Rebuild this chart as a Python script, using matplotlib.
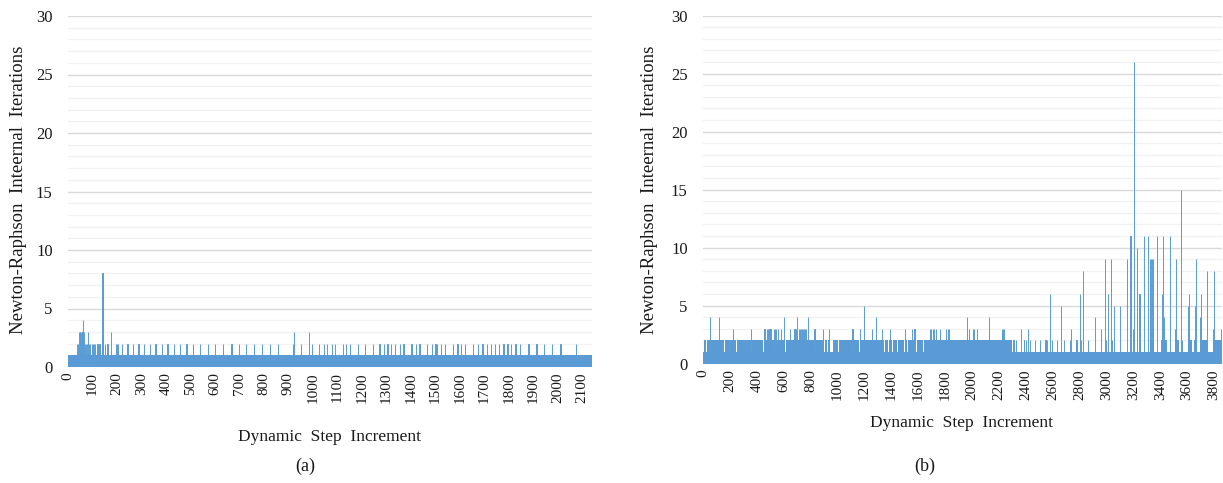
import numpy as np
import matplotlib.pyplot as plt

plt.rcParams['font.family'] = ['Liberation Serif', 'DejaVu Serif']

# ---- panel (a): 2140 dynamic steps, baseline of 1 iteration
a_n_steps = 2140
a_base = 1
a_spike_steps = [36, 40, 44, 47, 50, 53, 56, 59, 62, 65, 68, 74, 77, 80, 84, 88,
                 99, 102, 106, 110, 120, 128, 140, 150, 161, 176, 197, 201, 205,
                 221, 242, 265, 287, 311, 334, 357, 382, 406, 432, 457, 483, 511,
                 538, 570, 601, 632, 667, 699, 725, 759, 792, 824, 857, 918, 922,
                 951, 984, 996, 1025, 1045, 1057, 1078, 1090, 1123, 1136, 1150,
                 1184, 1211, 1245, 1272, 1290, 1304, 1320, 1336, 1354, 1370, 1402,
                 1422, 1435, 1467, 1486, 1500, 1505, 1522, 1538, 1573, 1590, 1606,
                 1622, 1655, 1674, 1692, 1711, 1726, 1743, 1761, 1778, 1794, 1810,
                 1827, 1844, 1880, 1913, 1945, 1976, 2011, 2074]
a_spike_vals = [2, 2, 3, 3, 3, 3, 3, 3, 4, 3, 2, 2, 2, 3, 2, 2,
                2, 2, 2, 2, 2, 2, 8, 2, 2, 3, 2, 2, 2,
                2, 2, 2, 2, 2, 2, 2, 2, 2, 2, 2, 2, 2,
                2, 2, 2, 2, 2, 2, 2, 2, 2, 2, 2, 2, 3,
                2, 3, 2, 2, 2, 2, 2, 2, 2, 2, 2,
                2, 2, 2, 2, 2, 2, 2, 2, 2, 2, 2,
                2, 2, 2, 2, 2, 2, 2, 2, 2, 2, 2,
                2, 2, 2, 2, 2, 2, 2, 2, 2, 2, 2,
                2, 2, 2, 2, 2, 2, 2, 2]

# ---- panel (b): 3860 dynamic steps, baseline 1, stretches at 2, spikes above
b_n_steps = 3860
b_base = 1
b_two_ranges = [(10, 14), (32, 42), (62, 150), (160, 190), (200, 240), (250, 325),
                (337, 350), (362, 440), (450, 462), (470, 512), (524, 574),
                (582, 604), (614, 639), (647, 700), (707, 780), (790, 830),
                (840, 895), (907, 917), (929, 939), (967, 999), (1009, 1104),
                (1116, 1154), (1164, 1249), (1253, 1301), (1311, 1336),
                (1356, 1371), (1386, 1396), (1416, 1436), (1451, 1491),
                (1501, 1511), (1521, 1580), (1590, 1630), (1640, 1702),
                (1710, 1775), (1785, 2289), (2384, 2390), (3326, 3346),
                (3410, 3440), (3508, 3530), (3605, 3628), (3655, 3670),
                (3695, 3745), (3790, 3800), (3808, 3860)]
b_spike_steps = [50, 117, 222, 358, 457, 478, 486, 494, 502, 530, 537, 544, 557,
                 582, 599, 649, 680, 685, 689, 697, 712, 720, 728, 736, 744, 752,
                 760, 768, 782, 829, 891, 934, 1111, 1166, 1199, 1256, 1286, 1328,
                 1391, 1505, 1556, 1573, 1690, 1697, 1712, 1720, 1735, 1760, 1810,
                 1820, 1830, 1960, 1977, 2010, 2018, 2035, 2127, 2222, 2232, 2240,
                 2309, 2329, 2364, 2399, 2414, 2429, 2471, 2509, 2547, 2559, 2581,
                 2597, 2634, 2659, 2684, 2729, 2734, 2777, 2802, 2810, 2824, 2864,
                 2914, 2959, 2987, 2999, 3009, 3034, 3042, 3059, 3101, 3154, 3179,
                 3196, 3204, 3226, 3246, 3278, 3308, 3326, 3333, 3340, 3346, 3373,
                 3413, 3423, 3430, 3473, 3508, 3516, 3553, 3563, 3608, 3614, 3658,
                 3665, 3695, 3705, 3745, 3790, 3803, 3850]
b_spike_vals = [4, 4, 3, 3, 3, 3, 3, 3, 3, 3, 3, 3, 3,
                3, 4, 3, 3, 3, 3, 4, 3, 3, 3, 3, 3, 3,
                3, 3, 4, 3, 3, 3, 3, 3, 5, 3, 4, 3,
                3, 3, 3, 3, 3, 3, 3, 3, 3, 3, 3,
                3, 3, 4, 3, 3, 3, 3, 4, 3, 3, 3,
                2, 2, 3, 2, 3, 2, 2, 2, 2, 2, 6,
                2, 2, 5, 2, 2, 3, 2, 6, 2, 8, 2,
                4, 3, 9, 2, 6, 9, 2, 5, 5, 9, 11,
                3, 26, 10, 6, 11, 11, 9, 9, 9, 9, 11,
                6, 11, 4, 11, 3, 9, 15, 2, 5, 6, 5,
                9, 4, 6, 8, 3, 8, 3]

bar_color = '#5B9BD5'
text_color = '#1a1a1a'

a_vals = np.full(a_n_steps, a_base, dtype=float)
a_vals[a_spike_steps] = a_spike_vals

b_vals = np.full(b_n_steps, b_base, dtype=float)
for s, e in b_two_ranges:
    b_vals[s:e] = 2
b_vals[b_spike_steps] = b_spike_vals

W, H = 1223, 483
fig = plt.figure(figsize=(W / 100, H / 100), dpi=100)

def px_axes(left, top, right, bottom):
    return fig.add_axes([left / W, 1 - bottom / H, (right - left) / W, (bottom - top) / H])

ax_a = px_axes(68, 16, 592, 367)
ax_b = px_axes(703, 15.6, 1222, 363.6)

panels = [(ax_a, a_vals, 100), (ax_b, b_vals, 200)]
for ax, vals, step in panels:
    n = len(vals)
    x = np.arange(n)
    ax.set_axisbelow(True)
    ax.bar(x, vals, width=1.0, color=bar_color, edgecolor=bar_color, linewidth=0.7)
    ax.set_xlim(-0.5, n - 0.5)
    ax.set_ylim(0, 30)
    ax.set_yticks(np.arange(0, 31, 5))
    ax.set_yticks(np.arange(0, 31, 1), minor=True)
    ax.grid(axis='y', which='major', color='#d9d9d9', linewidth=1.0)
    ax.grid(axis='y', which='minor', color='#f2f2f2', linewidth=1.0)
    ticks = np.arange(0, n, step)
    ax.set_xticks(ticks)
    ax.set_xticklabels([str(t) for t in ticks], rotation=90, fontsize=11, color=text_color)
    ax.tick_params(axis='both', which='both', length=0)
    ax.tick_params(axis='y', labelsize=12, labelcolor=text_color, pad=11)
    ax.tick_params(axis='x', pad=4)
    for sp in ax.spines.values():
        sp.set_visible(False)

ylab = 'Newton-Raphson  Inteernal  Iterations'
xlab = 'Dynamic  Step  Increment'
fig.text(19 / W, 1 - 190 / H, ylab, rotation=90, ha='center', va='center', fontsize=13.5, color=text_color)
fig.text(649 / W, 1 - 190 / H, ylab, rotation=90, ha='center', va='center', fontsize=13.5, color=text_color)
fig.text(330 / W, 1 - 437 / H, xlab, ha='center', va='center', fontsize=12.5, color=text_color)
fig.text(962 / W, 1 - 423 / H, xlab, ha='center', va='center', fontsize=12.5, color=text_color)
fig.text(305 / W, 1 - 466 / H, '(a)', ha='center', va='center', fontsize=13, color=text_color)
fig.text(925 / W, 1 - 466 / H, '(b)', ha='center', va='center', fontsize=13, color=text_color)

fig.savefig('out.png', dpi=100)
